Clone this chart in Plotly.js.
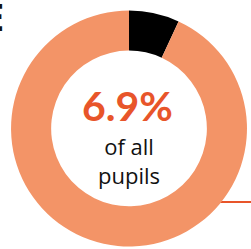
<!DOCTYPE html>
<html><head><meta charset="utf-8">
<script src="https://cdn.plot.ly/plotly-3.0.1.min.js"></script>
<style>html,body{margin:0;padding:0;background:#fff;}#c{width:251px;height:249px;}</style>
</head><body><div id="c"></div>
<script>
var labels = ["Eligible pupils", "Other pupils"];
var values = [6.9, 93.1];
var colors = ["#000000", "#F39467"];
var centerValue = "6.9%";
var centerText = "of all<br>pupils";

var trace = {
  type: "pie", labels: labels, values: values, hole: 0.66, sort: false,
  direction: "clockwise", rotation: 0,
  marker: {colors: colors, line: {width: 0}},
  textinfo: "none", hoverinfo: "none", showlegend: false,
  domain: {x: [0.044, 0.984], y: [0.01, 0.958]}
};
var layout = {
  width: 251, height: 249, margin: {l:0, r:0, t:0, b:0},
  paper_bgcolor: "#fff", showlegend: false,
  shapes: [{type: "line", xref: "paper", yref: "paper", layer: "below",
    x0: 0.8, x1: 1.0, y0: 1 - 202/249, y1: 1 - 202/249,
    line: {color: "#E8552A", width: 2}}],
  annotations: [
    {text: "<b>" + centerValue + "</b>", x: 127/251, y: 1 - 106/249, xref: "paper", yref: "paper",
     showarrow: false, font: {family: "Lato, Open Sans, sans-serif", size: 41, color: "#E8552A"}},
    {text: centerText, x: 129/251, y: 1 - 160/249, xref: "paper", yref: "paper",
     showarrow: false, font: {family: "Open Sans, sans-serif", size: 22, color: "#111"}},
    {text: "<b>E</b>", x: 5.5/251, y: 1 - 16/249, xref: "paper", yref: "paper", xanchor: "right", yanchor: "middle",
     showarrow: false, font: {family: "Open Sans, sans-serif", size: 38, color: "#111"}}
  ]
};
Plotly.newPlot("c", [trace], layout, {displayModeBar: false, staticPlot: true});
</script></body></html>
